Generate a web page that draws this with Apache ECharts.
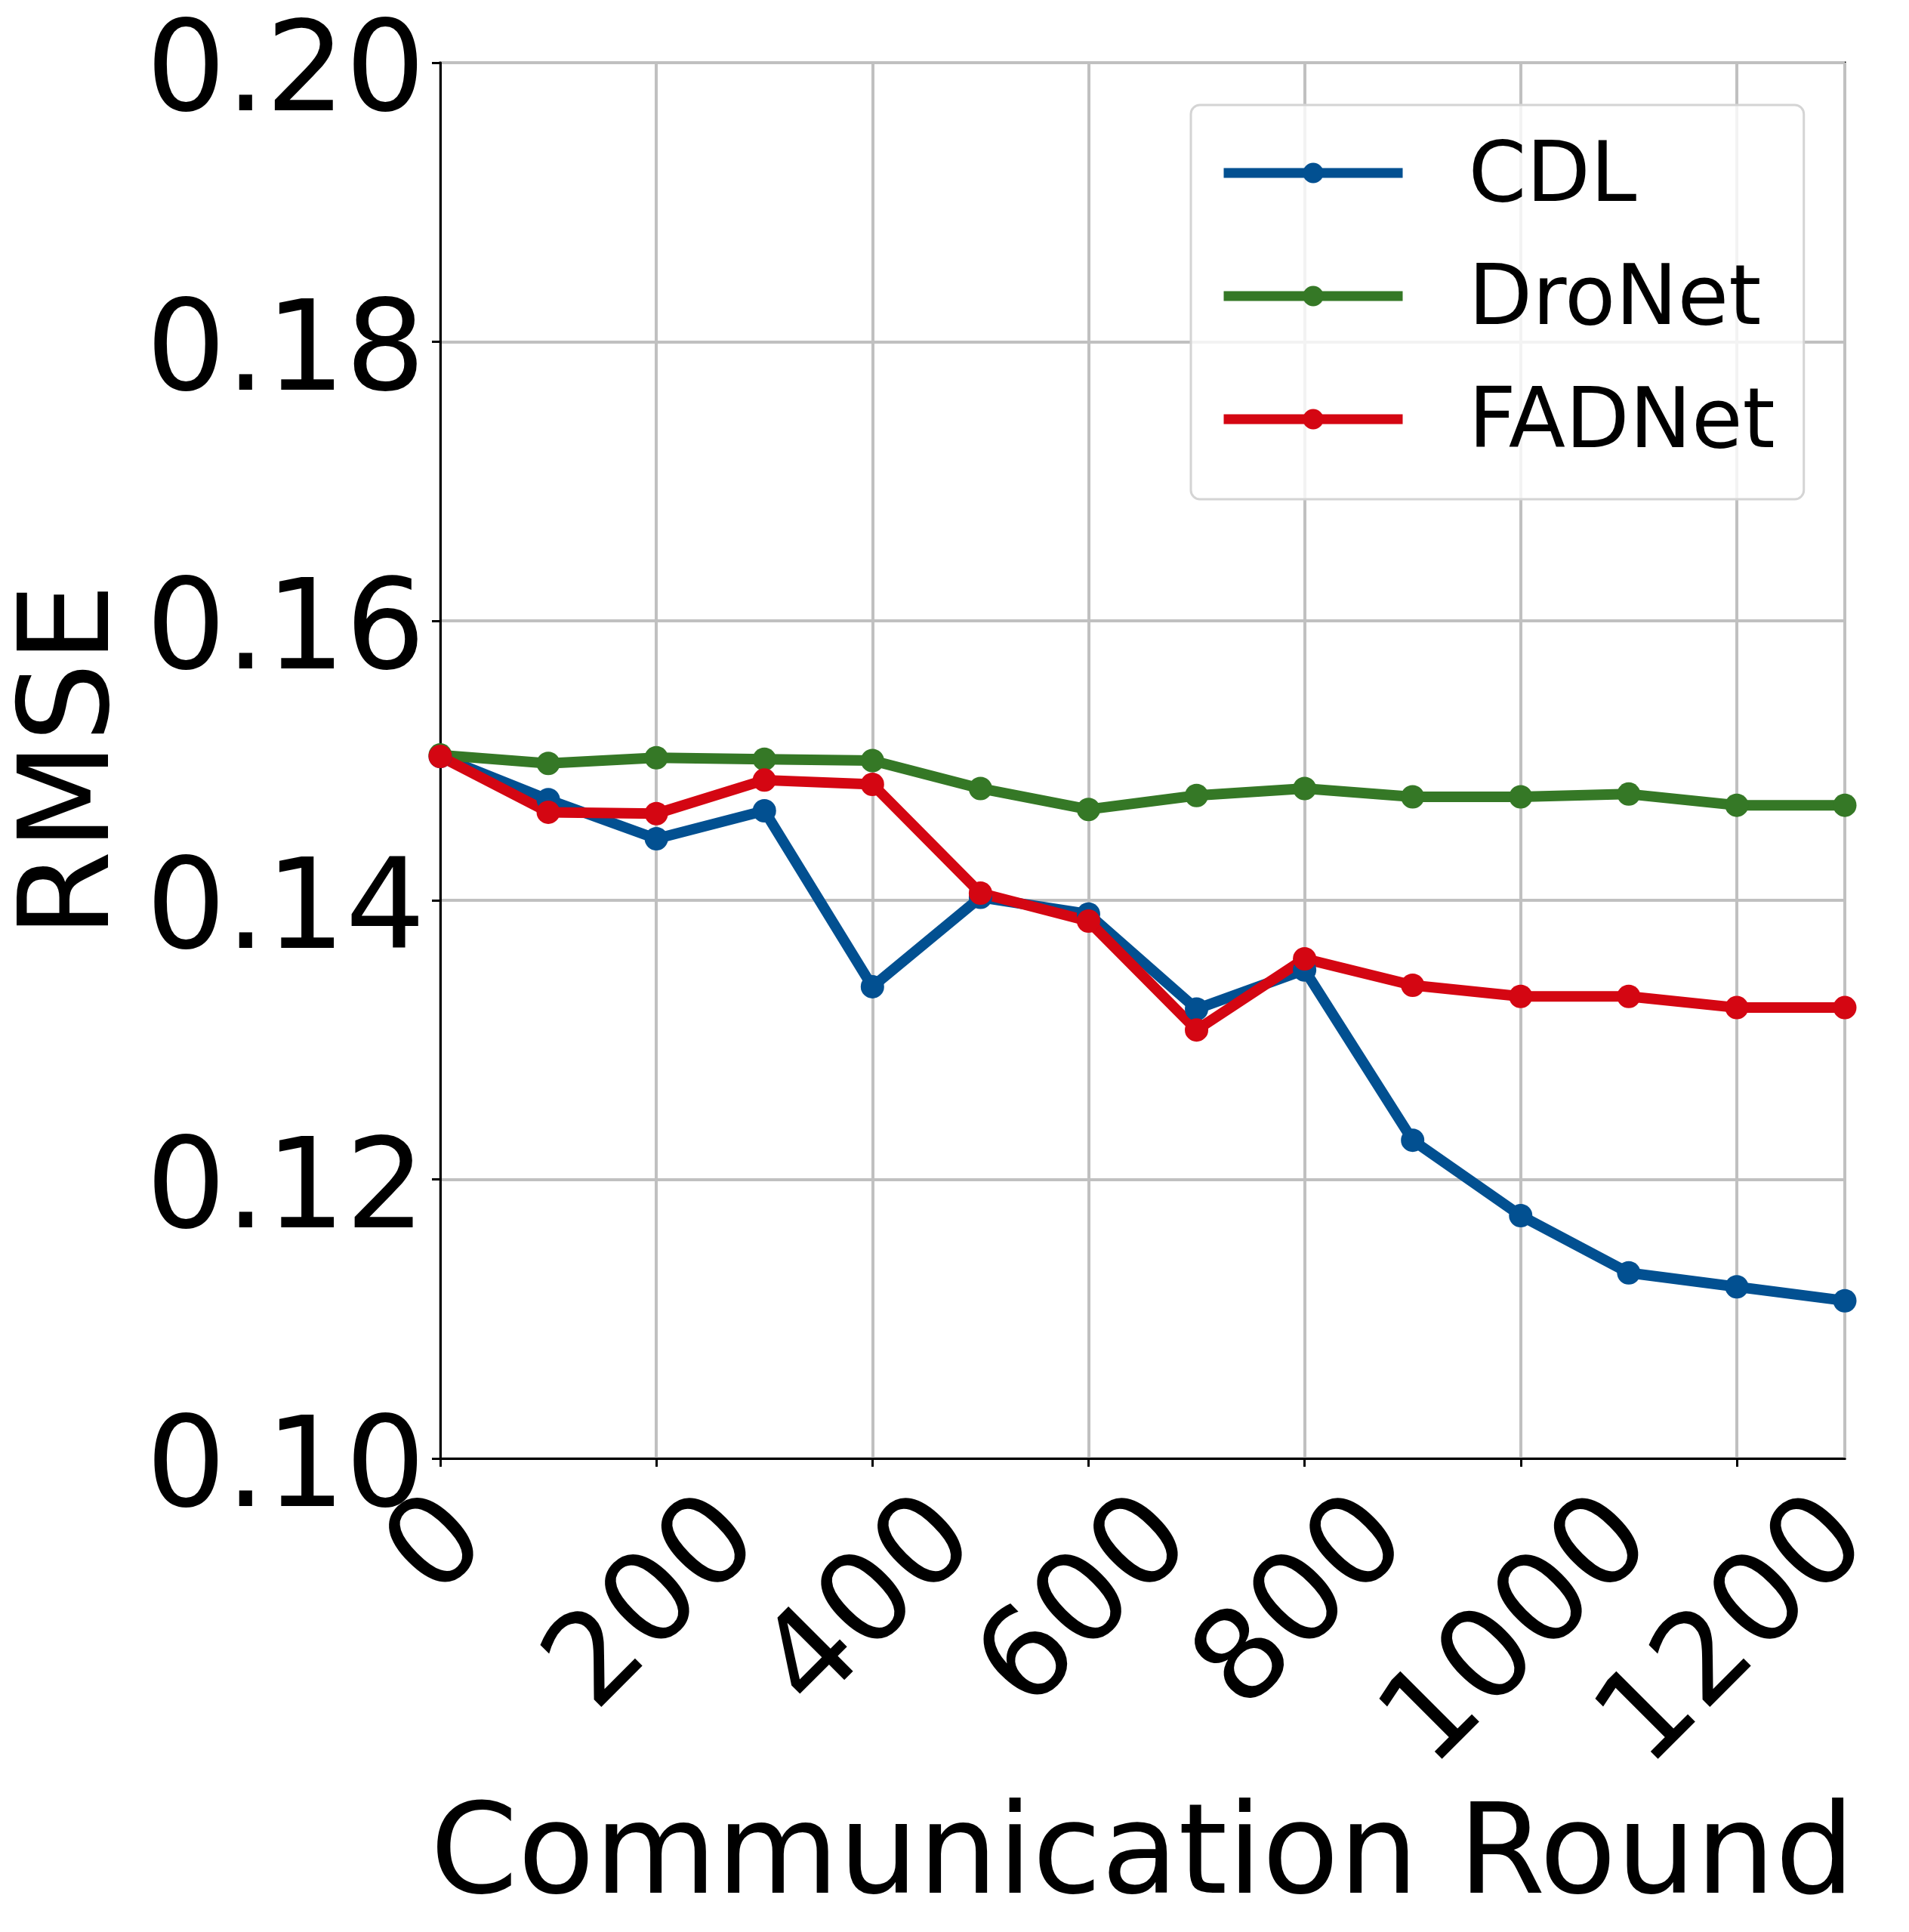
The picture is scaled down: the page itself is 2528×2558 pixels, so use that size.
<!DOCTYPE html>
<html>
<head>
<meta charset="utf-8">
<script src="https://cdn.jsdelivr.net/npm/echarts@6/dist/echarts.min.js"></script>
<style>
  html, body { margin: 0; padding: 0; background: #fff; }
  #chart { width: 2528px; height: 2558px; }
</style>
</head>
<body>
<div id="chart"></div>
<script>
// 通信轮数
var rounds = [0, 100, 200, 300, 400, 500, 600, 700, 800, 900, 1000, 1100, 1200, 1300];
// 各方法的RMSE
var cdl = [0.1503, 0.1472, 0.1444, 0.1464, 0.1338, 0.1402, 0.1390, 0.1322, 0.1350, 0.1228, 0.1174, 0.1133, 0.1123, 0.1113];
var dronet = [0.1504, 0.1498, 0.1502, 0.1501, 0.1500, 0.1480, 0.1465, 0.1475, 0.1480, 0.1474, 0.1474, 0.1476, 0.1468, 0.1468];
var fadnet = [0.1503, 0.1463, 0.1462, 0.1486, 0.1483, 0.1405, 0.1385, 0.1307, 0.1358, 0.1339, 0.1331, 0.1331, 0.1323, 0.1323];
var seriesNames = ['CDL', 'DroNet', 'FADNet'];
var seriesColors = ['#025091', '#357826', '#d40612'];
var xTicks = [0, 200, 400, 600, 800, 1000, 1200];
var yTicks = [0.10, 0.12, 0.14, 0.16, 0.18, 0.20];

var font = 'DejaVu Sans';

function pairs(values) {
    return rounds.map(function (r, i) { return [r, values[i]]; });
}

// 旋转后的x轴标签: 按字数加padding, 让标签整体往下挪
var xRich = {};
[1, 2, 3, 4].forEach(function (n) {
    var p = 53 * (n - 1);
    xRich['n' + n] = {
        fontSize: 166, fontFamily: font, color: '#000',
        padding: [p, p, 0, 0]
    };
});

var myChart = echarts.init(document.getElementById('chart'));

function makeSeries(name, values, color) {
    return {
        name: name,
        type: 'line',
        data: pairs(values),
        symbol: 'circle',
        symbolSize: 31,
        showAllSymbol: true,
        lineStyle: { width: 14, color: color },
        itemStyle: { color: color },
        emphasis: { disabled: true },
        clip: true
    };
}

var option = {
    animation: false,
    backgroundColor: '#fff',
    grid: {
        left: 583, right: 85, top: 83, bottom: 627,
        show: true, borderColor: '#000', borderWidth: 3,
        backgroundColor: 'transparent'
    },
    legend: {
        data: seriesNames,
        orient: 'vertical',
        left: 1577, top: 139,
        itemWidth: 237, itemHeight: 34, itemGap: 53,
        padding: [43, 38, 43, 37],
        backgroundColor: 'rgba(255,255,255,0.8)',
        borderColor: '#d4d4d4', borderWidth: 3, borderRadius: 12,
        lineStyle: { width: 13 },
        formatter: '{t|{name}}',
        textStyle: {
            fontSize: 110, fontFamily: font, color: '#000',
            rich: { t: { fontSize: 110, fontFamily: font, color: '#000', padding: [16, 0, 0, 82] } }
        }
    },
    xAxis: {
        type: 'value',
        min: 0, max: 1300, interval: 200,
        name: 'Communication Round',
        nameLocation: 'middle', nameGap: 449,
        nameTextStyle: { fontSize: 166, fontFamily: font, color: '#000' },
        axisLine: { lineStyle: { color: '#000', width: 3 } },
        axisTick: { show: true, length: 11, lineStyle: { color: '#000', width: 3 } },
        splitLine: { show: true, lineStyle: { color: '#c0c0c0', width: 4 } },
        axisLabel: {
            rotate: 45, margin: 120,
            align: 'center', verticalAlign: 'middle',
            showMaxLabel: false,
            fontSize: 166, fontFamily: font, color: '#000',
            formatter: function (v) {
                if (xTicks.indexOf(v) < 0) return '';
                var s = String(v);
                return '{n' + s.length + '|' + s + '}';
            },
            rich: xRich
        }
    },
    yAxis: {
        type: 'value',
        min: 0.10, max: 0.20, interval: 0.02,
        name: 'RMSE',
        nameLocation: 'middle', nameGap: 392,
        nameTextStyle: { fontSize: 166, fontFamily: font, color: '#000' },
        axisLine: { show: true, lineStyle: { color: '#000', width: 3 } },
        axisTick: { show: true, length: 11, lineStyle: { color: '#000', width: 3 } },
        splitLine: { show: true, lineStyle: { color: '#c0c0c0', width: 4 } },
        axisLabel: {
            margin: 20,
            fontSize: 166, fontFamily: font, color: '#000',
            formatter: function (v) {
                var hit = yTicks.filter(function (t) { return Math.abs(t - v) < 1e-9; });
                return hit.length ? '{y|' + hit[0].toFixed(2) + '}' : '';
            },
            rich: { y: { fontSize: 166, fontFamily: font, color: '#000', padding: [40, 0, 0, 0] } }
        }
    },
    series: [
        makeSeries(seriesNames[0], cdl, seriesColors[0]),
        makeSeries(seriesNames[1], dronet, seriesColors[1]),
        makeSeries(seriesNames[2], fadnet, seriesColors[2])
    ]
};

option && myChart.setOption(option);
</script>
</body>
</html>
